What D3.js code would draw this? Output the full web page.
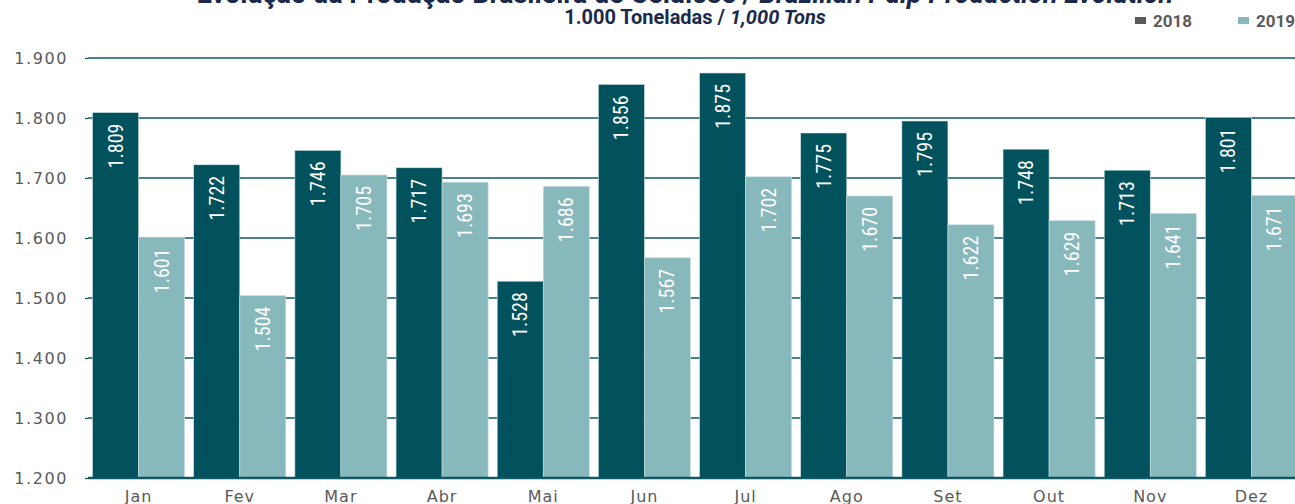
<!DOCTYPE html>
<html>
<head>
<meta charset="utf-8">
<script src="https://cdn.jsdelivr.net/npm/d3@7"></script>
<style>
  html, body { margin: 0; padding: 0; background: #fff; overflow: hidden; }
  svg { display: block; }
</style>
</head>
<body>
<div id="chart"></div>
<script>
const months = ['Jan', 'Fev', 'Mar', 'Abr', 'Mai', 'Jun', 'Jul', 'Ago', 'Set', 'Out', 'Nov', 'Dez'];
const series = ['2018', '2019'];
const values2018 = [1809, 1722, 1746, 1717, 1528, 1856, 1875, 1775, 1795, 1748, 1713, 1801];
const values2019 = [1601, 1504, 1705, 1693, 1686, 1567, 1702, 1670, 1622, 1629, 1641, 1671];
const yTicks = [1200, 1300, 1400, 1500, 1600, 1700, 1800, 1900];

const COLORS = { '2018': '#02525d', '2019': '#87b8bb' };
const GRID = '#0f5762';

const width = 1295, height = 504;
const margin = { top: 58, left: 88, bottom: 26 };
const plotRight = 1302;

const loc = d3.formatLocale({ decimal: ',', thousands: '.', grouping: [3], currency: ['', ''] });
const fmt = loc.format(',d');

const data = months.map((m, i) => ({ month: m, '2018': values2018[i], '2019': values2019[i] }));

const svg = d3.select('#chart').append('svg')
  .attr('width', width)
  .attr('height', height);

const x0 = d3.scaleBand()
  .domain(months)
  .range([margin.left, plotRight])
  .paddingInner(0.09)
  .paddingOuter(0.045);

const x1 = d3.scaleBand()
  .domain(series)
  .range([0, x0.bandwidth()]);

const y = d3.scaleLinear()
  .domain([1200, 1900])
  .range([height - margin.bottom, margin.top]);

// grid lines + y labels
const yAxis = svg.append('g')
  .attr('transform', `translate(${margin.left},0)`)
  .call(d3.axisLeft(y).tickValues(yTicks).tickSize(3).tickFormat(fmt))
  .call(g => g.select('.domain').remove());
yAxis.selectAll('line').attr('stroke', GRID).attr('stroke-width', 1.3);
yAxis.selectAll('text')
  .attr('x', -20)
  .attr('fill', '#5a5a5a')
  .style('font-family', '"DejaVu Sans", Verdana, sans-serif')
  .style('font-size', '16px')
  .style('letter-spacing', '1.6px');

svg.append('g')
  .selectAll('line')
  .data(yTicks.filter(t => t > 1200))
  .join('line')
    .attr('x1', margin.left)
    .attr('x2', width)
    .attr('y1', d => y(d))
    .attr('y2', d => y(d))
    .attr('stroke', GRID)
    .attr('stroke-width', 1.6);

// bars
const groups = svg.append('g')
  .selectAll('g')
  .data(data)
  .join('g')
    .attr('transform', d => `translate(${x0(d.month)},0)`);

const cells = groups.selectAll('g')
  .data(d => series.map(s => ({ key: s, value: d[s] })))
  .join('g');

cells.append('rect')
  .attr('x', d => x1(d.key))
  .attr('y', d => y(d.value))
  .attr('width', x1.bandwidth())
  .attr('height', d => y(1200) - y(d.value))
  .attr('fill', d => COLORS[d.key])
  .attr('stroke', '#c9dfe0')
  .attr('stroke-width', 0.6);

cells.append('text')
  .attr('transform', d => `translate(${x1(d.key) + x1.bandwidth() / 2 + 7},${y(d.value) + 11}) rotate(-90)`)
  .attr('text-anchor', 'end')
  .attr('fill', '#fff')
  .style('font-family', '"Liberation Sans Narrow", "Roboto Condensed", "Arial Narrow", sans-serif')
  .style('font-size', '20px')
  .text(d => fmt(d.value));

// baseline
svg.append('line')
  .attr('x1', margin.left)
  .attr('x2', width)
  .attr('y1', y(1200))
  .attr('y2', y(1200))
  .attr('stroke', GRID)
  .attr('stroke-width', 2.5);

// month labels
svg.append('g')
  .selectAll('text')
  .data(months)
  .join('text')
    .attr('x', d => x0(d) + x0.bandwidth() / 2)
    .attr('y', 502)
    .attr('text-anchor', 'middle')
    .attr('fill', '#5a5a5a')
    .style('font-family', '"DejaVu Sans", Verdana, sans-serif')
    .style('font-size', '16px')
    .style('letter-spacing', '1px')
    .text(d => d);

// title
const title = svg.append('text')
  .attr('x', 685)
  .attr('y', 3)
  .attr('text-anchor', 'middle')
  .attr('fill', '#1b2a4a')
  .style('font-family', 'Roboto, sans-serif')
  .style('font-weight', 'bold')
  .style('font-size', '27px');
title.append('tspan').text('Evolução da Produção Brasileira de Celulose / ');
title.append('tspan').style('font-style', 'italic').text('Brazilian Pulp Production Evolution');

const sub = svg.append('text')
  .attr('x', 695)
  .attr('y', 24)
  .attr('text-anchor', 'middle')
  .attr('fill', '#1b2a4a')
  .style('font-family', 'Roboto, sans-serif')
  .style('font-weight', 'bold')
  .style('font-size', '20px');
sub.append('tspan').text('1.000 Toneladas / ');
sub.append('tspan').style('font-style', 'italic').text('1,000 Tons');

// legend
const legendX = [1135, 1238];
const legend = svg.append('g')
  .selectAll('g')
  .data(series)
  .join('g')
    .attr('transform', (d, i) => `translate(${legendX[i]},0)`);
legend.append('rect')
  .attr('x', 0)
  .attr('y', 17)
  .attr('width', 11)
  .attr('height', 7)
  .attr('fill', d => d === '2018' ? '#5a5a5a' : COLORS[d]);
legend.append('text')
  .attr('x', 18)
  .attr('y', 27)
  .attr('fill', '#5a5a5a')
  .style('font-family', 'Roboto, sans-serif')
  .style('font-weight', 'bold')
  .style('font-size', '17px')
  .text(d => d);
</script>
</body>
</html>
